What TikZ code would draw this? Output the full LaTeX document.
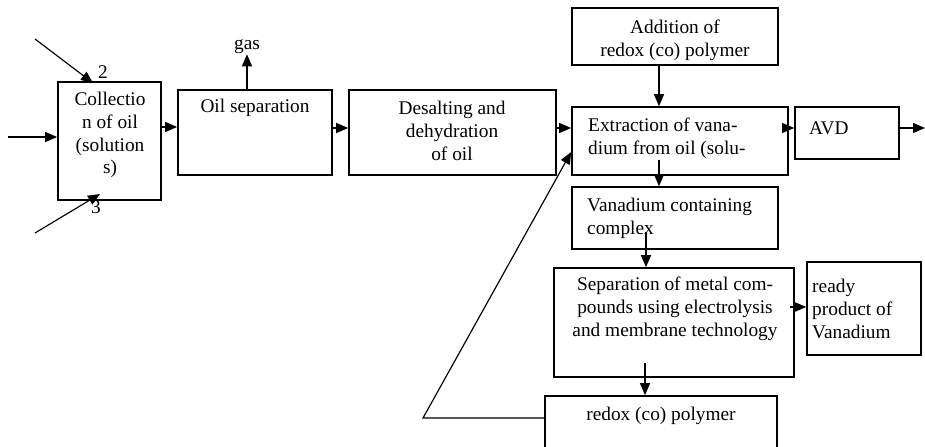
\documentclass[tikz,border=0pt]{standalone}
\usepackage{fontspec}
\setmainfont{Liberation Serif}
\usetikzlibrary{arrows.meta}

\tikzset{
  procbox/.style={draw, line width=1.4pt, inner sep=0pt},
  boxtext/.style={inner sep=0pt, font=\fontsize{16.5}{19.5}\selectfont},
  flow/.style={line width=1pt, -{Triangle[length=3.6mm,width=3mm]}}
}
% box from corner (x1,y1) to (x2,y2), in pixels
\newcommand{\procnode}[5]{\node[procbox, minimum width={(#4-#2)*0.3mm}, minimum height={(#5-#3)*0.3mm}] (#1) at ({(#2+#4)/2},{(#3+#5)/2}) {};}

\begin{document}
\begin{tikzpicture}[x=0.3mm,y=-0.3mm]
          \clip (0,0) rectangle (925,447);

          %Kaesten
          \procnode{col}{58}{82}{161}{200}
          \procnode{sep}{178}{90}{332}{175}
          \procnode{des}{349}{90}{556}{175}
          \procnode{add}{572}{8}{778}{65}
          \procnode{ext}{572}{107}{788}{175}
          \procnode{avd}{795}{107}{899}{159}
          \procnode{cpx}{572}{187}{778}{249}
          \procnode{mem}{554}{268}{794}{377}
          \procnode{prd}{807}{262}{921}{355}
          \procnode{pol}{545}{396}{777}{470}

          %Texte
          \node[boxtext, align=center] (tcol) at (110,135) {Collectio\\n of oil\\(solution\\s)};
          \node[boxtext] (tsep) at (255,108) {Oil separation};
          \node[boxtext, align=center] (tdes) at (452,131) {Desalting and\\dehydration\\of oil};
          \node[boxtext, align=center] (tadd) at (675,40) {Addition of\\redox (co) polymer};
          \node[boxtext, align=left, anchor=west] (text) at (588,138) {Extraction of vana-\\dium from oil (solu-};
          \node[boxtext, anchor=west] (tavd) at (809,128) {AVD};
          \node[boxtext, align=left, anchor=west] (tcpx) at (587,218) {Vanadium containing\\complex};
          \node[boxtext, align=center] (tmem) at (675,309) {Separation of metal com-\\pounds using electrolysis\\and membrane technology};
          \node[boxtext, align=left, anchor=west] (tprd) at (812,309) {ready\\product of\\Vanadium};
          \node[boxtext] (tpol) at (661,416) {redox (co) polymer};
          \node[boxtext] (gas) at (247,47) {gas};
          \node[boxtext] (n2) at (103,72) {2};
          \node[boxtext] (n3) at (96,207) {3};

          %Zulaeufe
          \coordinate (in1) at (35,39);
          \coordinate (in2) at (8,137);
          \coordinate (in3) at (35,233);
          \coordinate (out) at (925,128);
          \coordinate (fb) at (423,418);
          \draw[flow] (in1) -- (93,83);
          \draw[flow] (in2) -- (col.west |- in2);
          \draw[flow] (in3) -- (100,194);

          %Pfeile
          \draw[flow] (col.east |- 0,127) -- (sep.west |- 0,127);
          \draw[flow] (sep.north -| gas) -- (gas.south);
          \draw[flow] (sep.east |- 0,128) -- (des.west |- 0,128);
          \draw[flow] (des.east |- 0,128) -- (ext.west |- 0,128);
          \draw[flow] (add.south -| 659,0) -- (ext.north -| 659,0);
          \draw[flow] (ext.east |- 0,128) -- (avd.west |- 0,128);
          \draw[flow] (avd.east |- out) -- (out);
          \draw[flow] (659,160) -- (cpx.north -| 659,0);
          \draw[flow] (646,232) -- (mem.north -| 646,0);
          \draw[flow] (790,307) -- (prd.west |- 0,307);
          \draw[flow] (645,363) -- (pol.north -| 645,0);
          \draw[flow] (pol.west |- fb) -- (fb) -- (ext.west |- 0,152);

        \end{tikzpicture}
\end{document}
